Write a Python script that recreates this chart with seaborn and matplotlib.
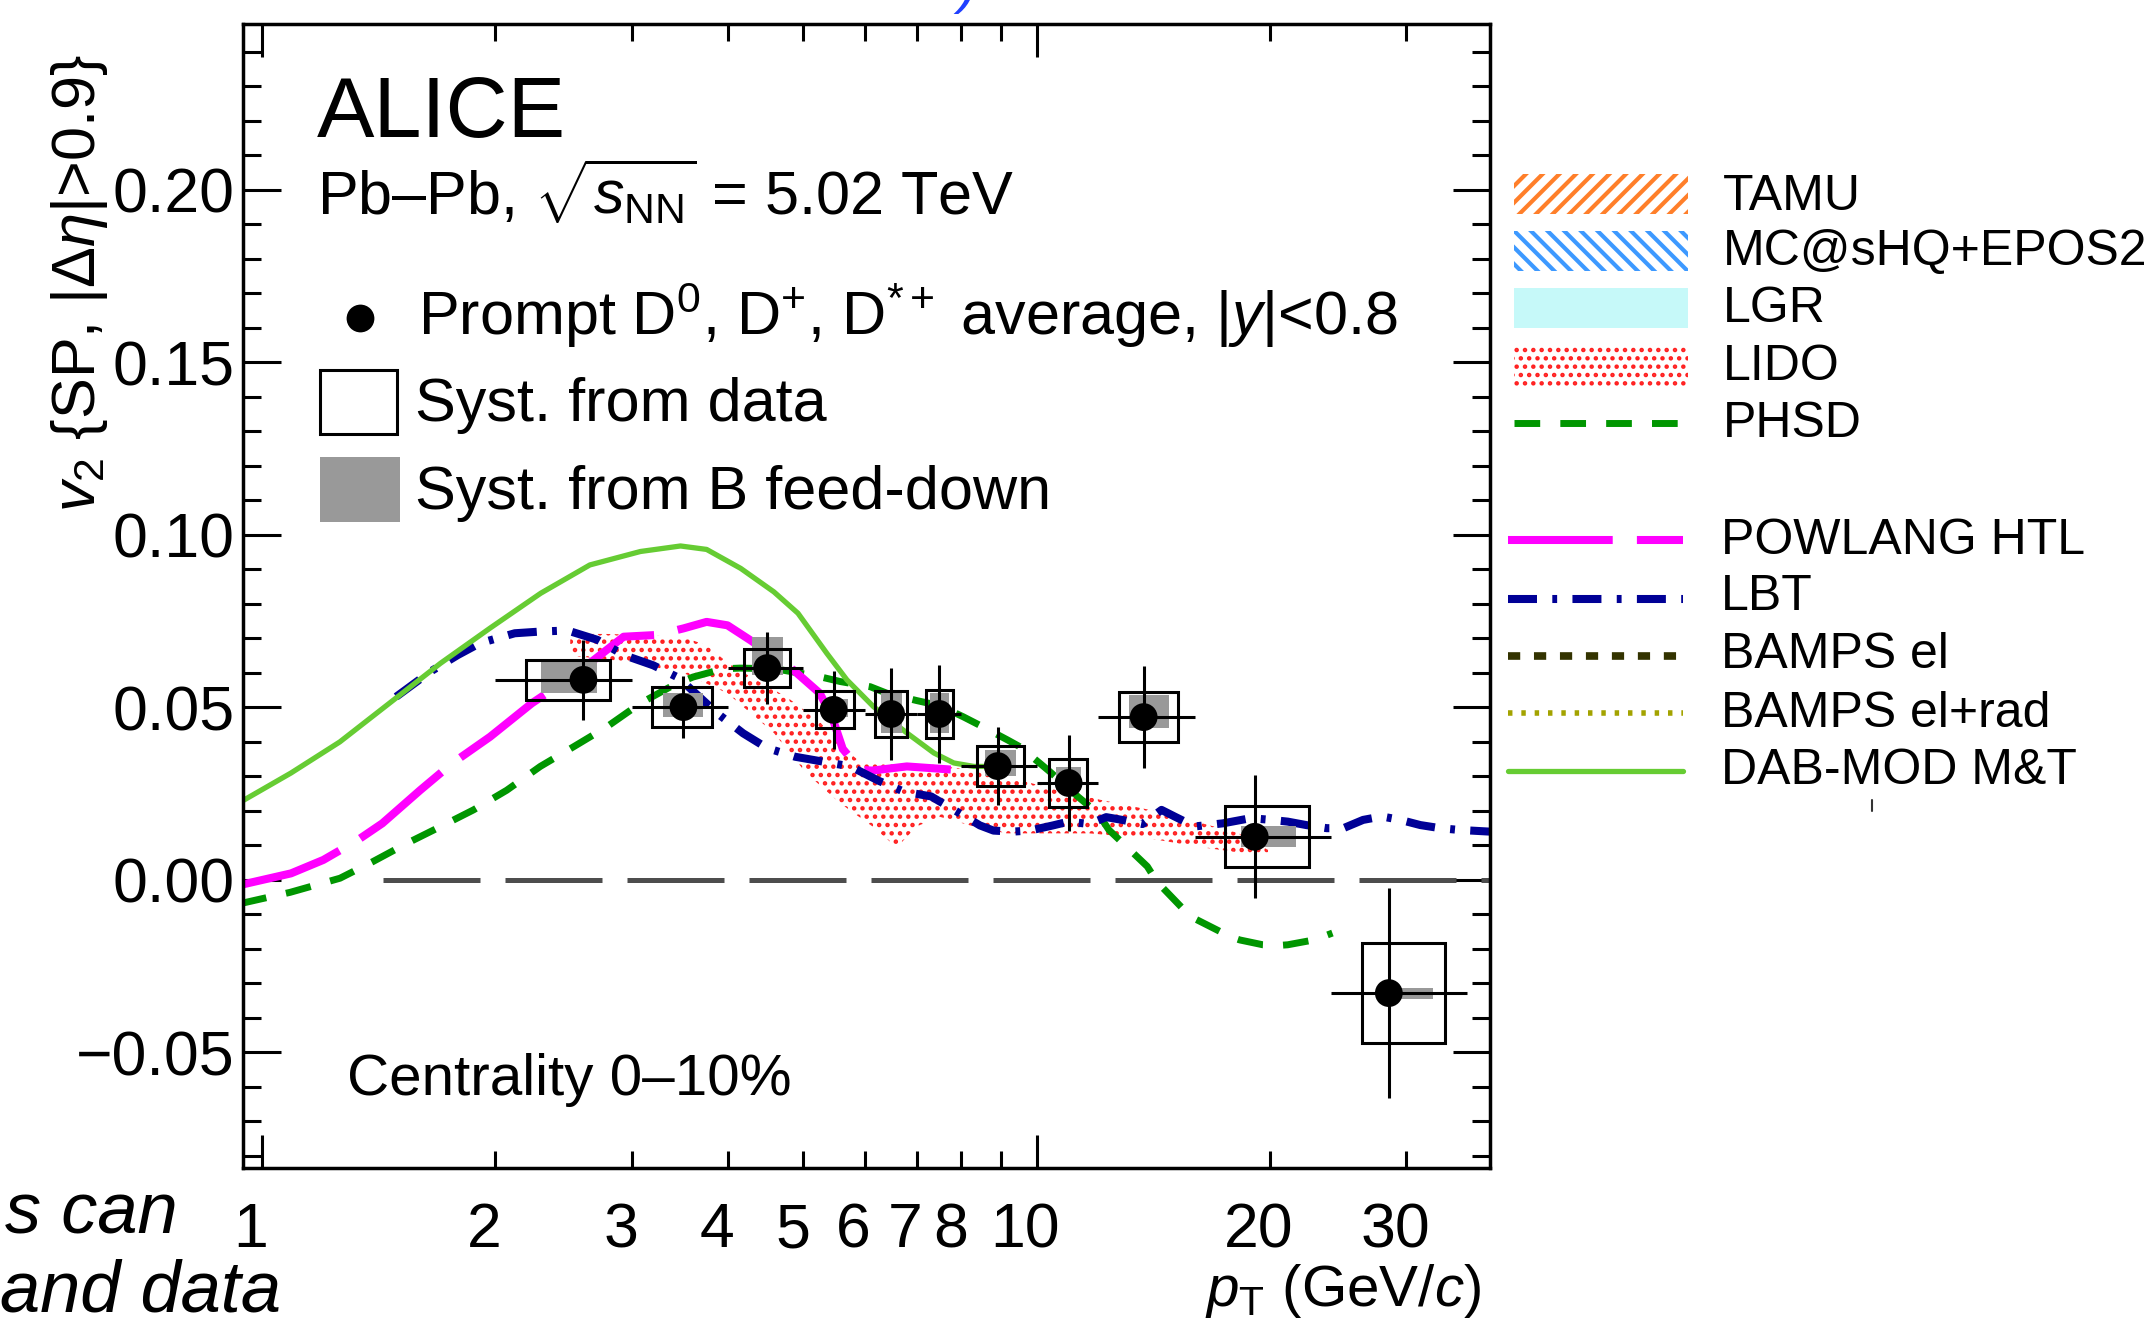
import matplotlib
matplotlib.use("Agg")
import matplotlib.pyplot as plt
import seaborn as sns
import numpy as np
from matplotlib.patches import Rectangle
from matplotlib.lines import Line2D
from matplotlib.ticker import FixedLocator, FuncFormatter, MultipleLocator
from matplotlib.transforms import ScaledTranslation

# ---------------- data ----------------
pt_mean = [2.60, 3.50, 4.49, 5.47, 6.49, 7.49, 8.91, 11.0, 13.75, 19.13, 28.5]
pt_low = [2, 3, 4, 5, 6, 7, 8, 10, 12, 16, 24]
pt_high = [3, 4, 5, 6, 7, 8, 10, 12, 16, 24, 36]
v2 = [0.0580, 0.0501, 0.0614, 0.0493, 0.0481, 0.0481, 0.0330, 0.0281, 0.0472, 0.0125, -0.0328]
v2_stat = [0.0115, 0.0090, 0.0104, 0.0113, 0.0133, 0.0143, 0.0114, 0.0139, 0.0149, 0.0178, 0.0305]
v2_syst = [0.0058, 0.0057, 0.0055, 0.0054, 0.0068, 0.0070, 0.0058, 0.0070, 0.0072, 0.0088, 0.0146]
fd_up = [0.0055, 0.0040, 0.0090, 0.0030, 0.0060, 0.0060, 0.0047, 0.0047, 0.0064, 0.0030, 0.0016]
fd_down = [0.0038, 0.0030, 0.0020, 0.0020, 0.0055, 0.0055, 0.0030, 0.0020, 0.0032, 0.0030, 0.0016]

dab_pt = [0.94, 1.09, 1.26, 1.46, 1.70, 1.97, 2.29, 2.65, 3.08, 3.47, 3.75, 4.15, 4.58, 4.92,
          5.36, 5.69, 6.16, 6.81, 7.37, 7.82, 8.3, 8.6]
dab_v2 = [0.0227, 0.031, 0.040, 0.0512, 0.0628, 0.073, 0.0831, 0.0913, 0.0952, 0.0968, 0.0958,
          0.0903, 0.0835, 0.0773, 0.0657, 0.0580, 0.0502, 0.0425, 0.0368, 0.0339, 0.0329, 0.0329]

pow_pt = [0.94, 1.09, 1.20, 1.33, 1.43, 1.60, 1.76, 1.97, 2.23, 2.40, 2.68, 2.93, 3.23, 3.50,
          3.75, 3.99, 4.27, 4.85, 5.25, 5.45, 5.62, 5.92, 6.14, 6.80, 7.75]
pow_v2 = [-0.0014, 0.0019, 0.0058, 0.0116, 0.0164, 0.026, 0.0338, 0.0415, 0.0512, 0.056, 0.0637,
          0.0705, 0.071, 0.0729, 0.0748, 0.0738, 0.0695, 0.0609, 0.0541, 0.047, 0.038, 0.0319,
          0.0317, 0.0329, 0.032]

lbt_pt = [1.49, 1.65, 1.79, 1.91, 2.12, 2.29, 2.48, 2.71, 2.93, 3.2, 3.45, 3.87, 4.18, 4.49,
          4.88, 5.36, 5.75, 6.26, 6.74, 7.31, 7.92, 8.45, 8.8, 9.3, 9.8, 10.5, 11.0, 11.7, 12.3,
          12.9, 13.7, 14.5, 15.1, 16.0, 17.4, 18.9, 20.1, 21.1, 22.3, 23.7, 24.9, 26.4, 27.9,
          29.5, 31.3, 33.2, 35.1, 38.5]
lbt_v2 = [0.0531, 0.0604, 0.0652, 0.0686, 0.0715, 0.072, 0.0723, 0.0696, 0.0652, 0.0622, 0.0586,
          0.0483, 0.0425, 0.0382, 0.0357, 0.0341, 0.0329, 0.0287, 0.0256, 0.0242, 0.0196, 0.0158,
          0.0143, 0.014, 0.0143, 0.0158, 0.0169, 0.0162, 0.0182, 0.0174, 0.0162, 0.0203, 0.0183,
          0.0155, 0.0164, 0.0179, 0.0174, 0.0169, 0.0159, 0.015, 0.015, 0.0174, 0.0184, 0.0174,
          0.0159, 0.015, 0.0145, 0.014]

phsd_pt = [0.94, 1.087, 1.261, 1.39, 1.538, 1.698, 1.875, 2.07, 2.287, 2.525, 2.788, 3.08, 3.4,
           3.6, 3.94, 4.14, 4.6, 5.25, 5.58, 6.1, 6.41, 7.0, 7.5, 8.04, 8.52, 9.17, 9.5, 10.1,
           10.4, 11.3, 12.0, 12.4, 13.2, 13.9, 14.3, 15.8, 17.1, 17.8, 18.3, 19.6, 20.5, 21.1,
           22.8, 24.1]
phsd_v2 = [-0.0068, -0.0036, 0.0005, 0.0053, 0.0106, 0.0154, 0.0203, 0.026, 0.0329, 0.0386,
           0.0444, 0.0512, 0.0565, 0.0588, 0.0612, 0.0614, 0.0612, 0.0589, 0.0575, 0.056, 0.0541,
           0.052, 0.0505, 0.0473, 0.0444, 0.0406, 0.0387, 0.0338, 0.0314, 0.0242, 0.0193, 0.0145,
           0.0087, 0.0039, -0.0005, -0.0106, -0.0145, -0.0165, -0.0174, -0.0188, -0.019, -0.0188,
           -0.0174, -0.0154]

lido_pt_up = [2.5, 2.78, 3.08, 3.5, 3.75, 3.99, 4.27, 4.76, 5.25, 5.58, 5.9, 6.14, 7.16, 7.9,
              9.15, 10.6, 12.1, 14.0, 16.3, 18.2, 19.9]
lido_up = [0.0713, 0.0713, 0.0710, 0.0704, 0.0680, 0.0630, 0.0589, 0.0530, 0.0458, 0.0390,
           0.0345, 0.0338, 0.0338, 0.0324, 0.0300, 0.0261, 0.0232, 0.0203, 0.0165, 0.0136, 0.0087]
lido_pt_lo = [2.5, 2.78, 3.08, 3.5, 3.99, 4.58, 5.04, 5.58, 6.14, 6.6, 7.0, 7.5, 8.3, 9.15,
              10.1, 11.7, 14.0, 16.3, 18.2, 19.9]
lido_lo = [0.0650, 0.0640, 0.0625, 0.0600, 0.0541, 0.0426, 0.0310, 0.0222, 0.0155, 0.0094,
           0.0155, 0.0183, 0.0155, 0.0135, 0.0135, 0.0135, 0.0120, 0.0095, 0.0080, 0.0068]

x_major = [1, 10]
x_minor = [2, 3, 4, 5, 6, 7, 8, 9, 20, 30]
x_minor_labelled = [2, 3, 4, 5, 6, 7, 8, 20, 30]
y_major = [-0.05, 0.0, 0.05, 0.10, 0.15, 0.20]

legend_bands = ["TAMU", "MC@sHQ+EPOS2", "LGR", "LIDO", "PHSD"]
legend_lines = ["POWLANG HTL", "LBT", "BAMPS el", "BAMPS el+rad", "DAB-MOD M&T"]

# ---------------- styling ----------------
sns.set_theme(style="ticks", rc={"axes.edgecolor": "black", "xtick.color": "black",
                                 "ytick.color": "black", "text.color": "black",
                                 "axes.labelcolor": "black"})
plt.rcParams["font.family"] = ["Liberation Sans", "DejaVu Sans"]
plt.rcParams["mathtext.fontset"] = "custom"
plt.rcParams["mathtext.rm"] = "Liberation Sans"
plt.rcParams["mathtext.it"] = "Liberation Sans:italic"
plt.rcParams["mathtext.bf"] = "Liberation Sans:bold"
plt.rcParams["hatch.linewidth"] = 2.0

C_DAB = "#66cc33"
C_PHSD = "#009600"
C_POW = "#ff00ff"
C_LBT = "#000096"
C_BEL = "#333300"
C_BRAD = "#a3a300"
C_TAMU = "#ff7f2a"
C_MC = "#3d99ff"
C_LGR = "#c6f9f9"
C_LIDO = "#ff2020"
C_GRAY = "#999999"

LS_POW = (0, (13, 3))
LS_PHSD = (0, (3.7, 2.9))
LS_LBT = (0, (3.6, 1.9, 0.6, 1.9))
LS_BEL = (0, (1.6, 1.8))
LS_BRAD = (0, (0.8, 1.6))


def hatch_lw(patch, lw):
    if hasattr(patch, "set_hatch_linewidth"):
        patch.set_hatch_linewidth(lw)
    return patch


W, H = 2148, 1326
fig = plt.figure(figsize=(W / 100, H / 100), dpi=100)
fx = lambda x: x / W
fy = lambda y: 1 - y / H

ax = fig.add_axes([fx(243), fy(1168), fx(1490) - fx(243), fy(24) - fy(1168)])
ax.set_xscale("log")

# LIDO band
band_x = lido_pt_up + lido_pt_lo[::-1]
band_y = lido_up + lido_lo[::-1]
for p in ax.fill(band_x, band_y, facecolor="none", edgecolor=C_LIDO, hatch="..", linewidth=0,
                 zorder=1):
    hatch_lw(p, 2.0)

# zero line
ax.axhline(0, xmin=(383 - 243) / (1490 - 243), xmax=1, color="#4d4d4d", lw=3.6,
           linestyle=(0, (19.4, 5)), zorder=1)

# model curves
sns.lineplot(x=phsd_pt, y=phsd_v2, ax=ax, color=C_PHSD, lw=5.0, linestyle=LS_PHSD, zorder=2)
sns.lineplot(x=pow_pt, y=pow_v2, ax=ax, color=C_POW, lw=5.8, linestyle=LS_POW, zorder=2)
sns.lineplot(x=lbt_pt, y=lbt_v2, ax=ax, color=C_LBT, lw=5.8, linestyle=LS_LBT, zorder=3)
sns.lineplot(x=dab_pt, y=dab_v2, ax=ax, color=C_DAB, lw=3.8, zorder=3)

# data: systematic boxes, stat errors, points
pm = np.array(pt_mean)
lo = np.array(pt_low, dtype=float)
hi = np.array(pt_high, dtype=float)
v = np.array(v2)
bw = hi - lo
bc = 0.5 * (lo + hi)
ax.bar(bc - 0.205 * bw, np.array(fd_up) + np.array(fd_down), width=0.41 * bw,
       bottom=v - np.array(fd_down), align="edge", color=C_GRAY, linewidth=0, zorder=4)
ax.bar(bc - 0.31 * bw, 2 * np.array(v2_syst), width=0.62 * bw, bottom=v - np.array(v2_syst),
       align="edge", facecolor="none", edgecolor="black", linewidth=2.2, zorder=5)
ax.errorbar(pm, v, yerr=v2_stat, xerr=[pm - lo, hi - pm], fmt="none", ecolor="black",
            elinewidth=2.2, capsize=0, zorder=5)
sns.scatterplot(x=pt_mean, y=v2, ax=ax, color="black", s=400, marker="o", edgecolor="none",
                linewidth=0, zorder=6)

# axes
ax.set_xlim(0.945, 38.5)
ax.set_ylim(-0.0835, 0.2481)
ax.set_xlabel("")
ax.set_ylabel("")
ax.xaxis.set_major_locator(FixedLocator(x_major))
ax.xaxis.set_minor_locator(FixedLocator(x_minor))
ax.xaxis.set_major_formatter(FuncFormatter(lambda val, p: f"{val:g}"))
ax.xaxis.set_minor_formatter(FuncFormatter(
    lambda val, p: f"{val:g}" if any(abs(val - m) < 1e-6 for m in x_minor_labelled) else ""))
ax.yaxis.set_major_locator(FixedLocator(y_major))
ax.yaxis.set_minor_locator(MultipleLocator(0.01))
ax.yaxis.set_major_formatter(FuncFormatter(
    lambda val, p: f"{abs(val):.2f}" if abs(val) < 1e-9 else f"{val:.2f}".replace("-", "\u2212")))
ax.tick_params(which="both", direction="in", top=True, right=True, labelsize=45, width=2.2,
               color="black")
ax.tick_params(axis="x", which="major", length=24, pad=24)
ax.tick_params(axis="x", which="minor", length=12, pad=24)
ax.tick_params(axis="y", which="major", length=27, pad=6)
ax.tick_params(axis="y", which="minor", length=13)
for s in ax.spines.values():
    s.set_linewidth(2.5)
    s.set_color("black")
    s.set_zorder(10)

# x tick labels sit slightly left of their ticks in the original
shift = ScaledTranslation(-0.11, 0, fig.dpi_scale_trans)
for t in ax.xaxis.get_major_ticks(len(x_major)) + ax.xaxis.get_minor_ticks(len(x_minor)):
    t.label1.set_transform(t.label1.get_transform() + shift)

# axis titles
fig.text(fx(80), fy(55), r"$v_{2}$ {SP, $|\Delta\eta|$>0.9}", rotation=90, ha="center",
         va="top", fontsize=44)
fig.text(fx(1481), fy(1306), r"$p_{\mathrm{T}}$ (GeV/$c$)", ha="right", va="baseline",
         fontsize=42)

# in-plot texts
fig.text(fx(317), fy(137), "ALICE", fontsize=62, va="baseline")
fig.text(fx(317), fy(214), r"Pb–Pb, $\sqrt{s_{\mathrm{NN}}}$ = 5.02 TeV", fontsize=44,
         va="baseline")
fig.add_artist(Line2D([fx(360)], [fy(318)], marker="o", markersize=20, color="black",
                      markeredgewidth=0, transform=fig.transFigure))
fig.text(fx(418), fy(335), r"Prompt D$^{0}$, D$^{+}$, D$^{*+}$ average, $|y|$<0.8",
         fontsize=44, va="baseline")
fig.add_artist(Rectangle((fx(320), fy(434)), fx(397) - fx(320), fy(370) - fy(434), fill=False,
                         edgecolor="black", linewidth=2.2, transform=fig.transFigure))
fig.text(fx(415), fy(421), "Syst. from data", fontsize=44, va="baseline")
fig.add_artist(Rectangle((fx(320), fy(522)), fx(400) - fx(320), fy(457) - fy(522),
                         facecolor=C_GRAY, edgecolor="none", transform=fig.transFigure))
fig.text(fx(415), fy(509), "Syst. from B feed-down", fontsize=44, va="baseline")
fig.text(fx(347), fy(1095), "Centrality 0–10%", fontsize=42, va="baseline")

# right legend: bands
band_styles = [(dict(facecolor="none", edgecolor=C_TAMU, hatch="//"), 3.0),
               (dict(facecolor="none", edgecolor=C_MC, hatch="\\\\"), 3.0),
               (dict(facecolor=C_LGR, edgecolor="none"), 2.0),
               (dict(facecolor="none", edgecolor=C_LIDO, hatch=".."), 2.0)]
band_tops = [174, 231, 288, 346]
for top, (st, hl) in zip(band_tops, band_styles):
    r = Rectangle((fx(1514), fy(top + 40)), fx(1688) - fx(1514), fy(top) - fy(top + 40),
                  linewidth=0, transform=fig.transFigure, **st)
    fig.add_artist(hatch_lw(r, hl))
fig.add_artist(Line2D([fx(1514), fx(1690)], [fy(423)] * 2, color=C_PHSD, lw=5.0,
                      linestyle=LS_PHSD, transform=fig.transFigure))
for lab, base in zip(legend_bands, [210, 265, 322, 380, 437]):
    fig.text(fx(1723), fy(base), lab, fontsize=36, va="baseline")

# right legend: lines
line_styles = [dict(color=C_POW, lw=5.8, linestyle=LS_POW),
               dict(color=C_LBT, lw=5.8, linestyle=LS_LBT),
               dict(color=C_BEL, lw=5.5, linestyle=LS_BEL),
               dict(color=C_BRAD, lw=4.0, linestyle=LS_BRAD),
               dict(color=C_DAB, lw=3.8, linestyle="-")]
for yy, st in zip([540, 599, 656, 713, 771], line_styles):
    fig.add_artist(Line2D([fx(1508), fx(1683)], [fy(yy)] * 2, transform=fig.transFigure, **st))
for lab, base in zip(legend_lines, [554, 610, 668, 727, 784]):
    fig.text(fx(1721), fy(base), lab, fontsize=36, va="baseline")

# small stray tick of the neighbouring panel
fig.add_artist(Line2D([fx(1872), fx(1872)], [fy(800), fy(811)], color="#333333", lw=1.5,
                      transform=fig.transFigure))

# slide text fragments around the cropped figure
fig.text(fx(178), fy(1233), "s can", ha="right", va="baseline", fontsize=52, style="italic")
fig.text(fx(281), fy(1312), "and data", ha="right", va="baseline", fontsize=52, style="italic")
fig.text(fx(968), fy(2), ")", ha="center", va="baseline", fontsize=40, color="#2040ff",
         style="italic")

fig.savefig("out.png", dpi=100)
